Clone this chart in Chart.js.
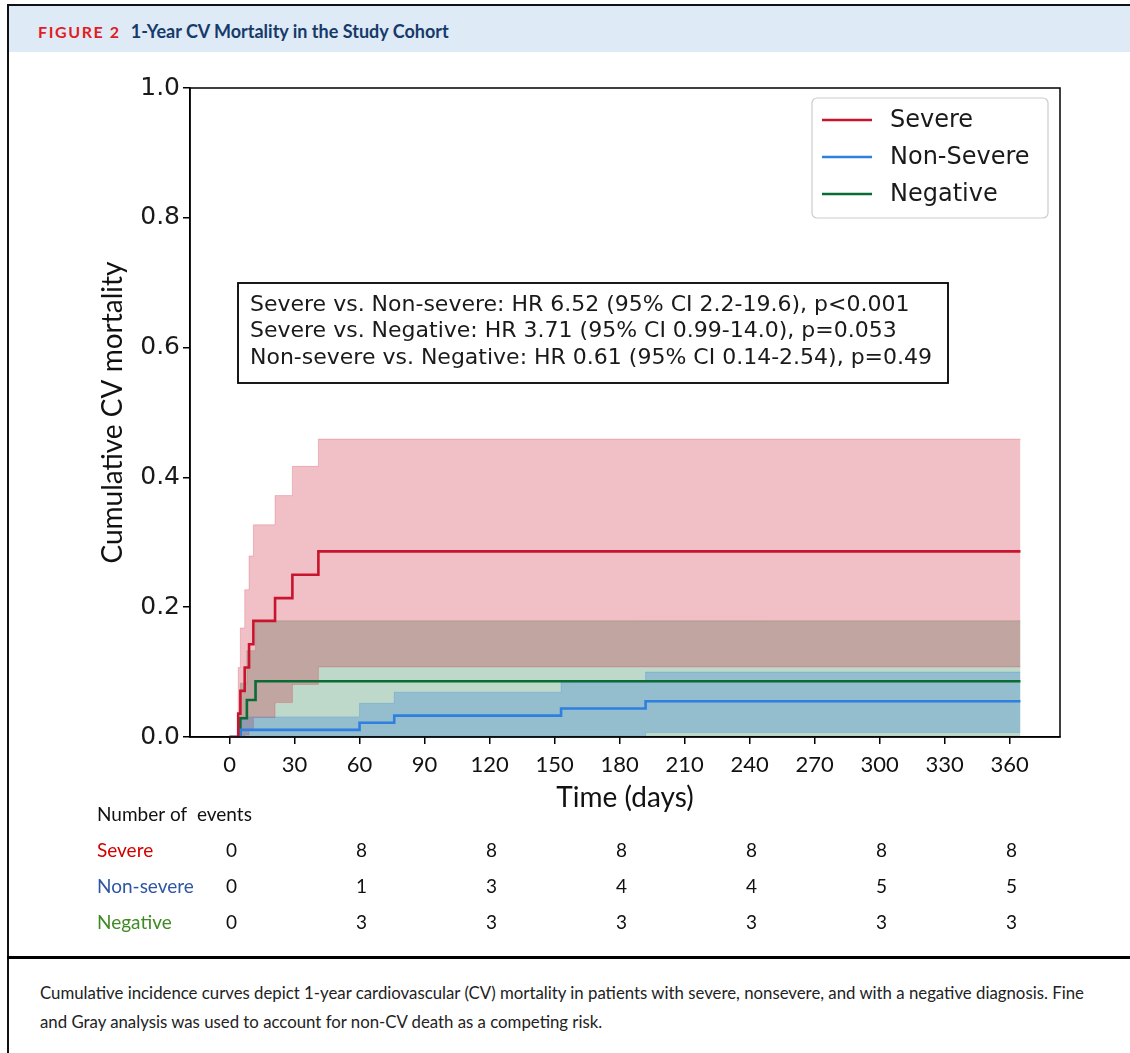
<!DOCTYPE html>
<html>
<head>
<meta charset="utf-8">
<script src="https://cdn.jsdelivr.net/npm/chart.js@4.4.0/dist/chart.umd.min.js"></script>
<style>
  html, body { margin: 0; padding: 0; background: #fff; }
  body { width: 1130px; height: 1053px; position: relative; overflow: hidden; }
  .rule { position: absolute; background: #111; }
  .head { position: absolute; left: 9px; top: 6px; width: 1121px; height: 46px; background: #deeaf6; }
  .head-text { position: absolute; left: 38px; top: 17px; line-height: 28px; font-family: Lato, "Open Sans", sans-serif; font-weight: 700; font-size: 18px; color: #163a6a; white-space: nowrap; }
  .head-text .fig { color: #e31b23; font-size: 16px; letter-spacing: 1.6px; margin-right: 10px; }
  .caption { position: absolute; left: 40px; top: 978px; font-family: Lato, "Open Sans", sans-serif; font-size: 16.8px; line-height: 29px; color: #222; white-space: nowrap; }
  #wrap { position: absolute; left: 0; top: 60px; width: 1130px; height: 890px; }
</style>
</head>
<body>
<div class="head"></div>
<div class="rule" style="left:7px; top:4px; width:1123px; height:2px;"></div>
<div class="rule" style="left:7px; top:4px; width:2px; height:1049px;"></div>
<div class="head-text"><span class="fig">FIGURE 2</span>1-Year CV Mortality in the Study Cohort</div>
<div id="wrap"><canvas id="km" width="1130" height="890"></canvas></div>
<div class="rule" style="left:7px; top:956px; width:1123px; height:3px; background:#000;"></div>
<div class="caption">Cumulative incidence curves depict 1-year cardiovascular (CV) mortality in patients with severe, nonsevere, and with a negative diagnosis. Fine<br>and Gray analysis was used to account for non-CV death as a competing risk.</div>

<script>
// axis ticks
const xTicks = [0, 30, 60, 90, 120, 150, 180, 210, 240, 270, 300, 330, 360];
const yTicks = [0, 0.2, 0.4, 0.6, 0.8, 1.0];

// cumulative incidence, steps at these days
const severeDays = [0, 4, 5, 7, 9, 11, 21, 29, 41, 365];
const severeCif  = [0, 0.036, 0.071, 0.107, 0.143, 0.179, 0.214, 0.250, 0.286, 0.286];
const severeLo   = [0, 0, 0, 0.003, 0.010, 0.030, 0.053, 0.081, 0.108, 0.108];
const severeHi   = [0, 0.107, 0.168, 0.227, 0.279, 0.327, 0.372, 0.417, 0.459, 0.459];

const nonSevereDays = [0, 5, 60, 76, 153, 192, 365];
const nonSevereCif  = [0, 0.011, 0.022, 0.033, 0.044, 0.055, 0.055];
const nonSevereLo   = [0, 0, 0, 0, 0.001, 0.007, 0.007];
const nonSevereHi   = [0, 0.031, 0.052, 0.069, 0.084, 0.100, 0.100];

const negativeDays = [0, 5, 8, 12, 365];
const negativeCif  = [0, 0.029, 0.057, 0.086, 0.086];
const negativeLo   = [0, 0, 0, 0.001, 0.001];
const negativeHi   = [0, 0.083, 0.133, 0.179, 0.179];

const seriesNames = ['Severe', 'Non-Severe', 'Negative'];

const hrLines = [
  'Severe vs. Non-severe: HR 6.52 (95% CI 2.2-19.6), p<0.001',
  'Severe vs. Negative: HR 3.71 (95% CI 0.99-14.0), p=0.053',
  'Non-severe vs. Negative: HR 0.61 (95% CI 0.14-2.54), p=0.49'
];

// number of events table
const eventDays = [0, 60, 120, 180, 240, 300, 360];
const tableRows = ['Severe', 'Non-severe', 'Negative'];
const severeEvents    = [0, 8, 8, 8, 8, 8, 8];
const nonSevereEvents = [0, 1, 3, 4, 4, 5, 5];
const negativeEvents  = [0, 3, 3, 3, 3, 3, 3];

const RED = '#c8142c', BLUE = '#2f7fe0', GREEN = '#0b6b35';
const RED_BAND = 'rgba(200,30,50,0.28)';
const BLUE_BAND = 'rgba(50,125,215,0.30)';
const GREEN_BAND = 'rgba(40,130,80,0.30)';
const TABLE_COLORS = ['#d40000', '#2f55a4', '#3f8a24'];

const toPts = (xs, ys) => xs.map((x, i) => ({ x: x, y: ys[i] }));

const lineDs = (label, xs, ys, color) => ({
  label: label, data: toPts(xs, ys), stepped: true, borderColor: color,
  borderWidth: 2.6, pointRadius: 0, fill: false
});
const bandDs = (xs, ys, color, fill) => ({
  label: '', data: toPts(xs, ys), stepped: true, borderColor: color,
  backgroundColor: color, borderWidth: 0.8, pointRadius: 0, fill: fill
});

// frame, legend, HR box and the events table
const extras = {
  id: 'extras',
  afterDraw(chart) {
    const ctx = chart.ctx;
    const ca = chart.chartArea;
    const xs = chart.scales.x;
    ctx.save();

    // full box around the plot
    ctx.strokeStyle = '#000';
    ctx.lineWidth = 1.5;
    ctx.strokeRect(ca.left, ca.top, ca.right - ca.left, ca.bottom - ca.top);

    // legend
    const lx = ca.right - 248, ly = ca.top + 10, lw = 236, lh = 120;
    ctx.fillStyle = 'rgba(255,255,255,0.85)';
    ctx.strokeStyle = '#cccccc';
    ctx.lineWidth = 1.2;
    ctx.beginPath();
    ctx.roundRect(lx, ly, lw, lh, 5);
    ctx.fill();
    ctx.stroke();
    ctx.font = '24px "DejaVu Sans"';
    ctx.textBaseline = 'middle';
    ctx.textAlign = 'left';
    for (let i = 0; i < 3; i++) {
      const ds = chart.data.datasets[i];
      const yy = ly + 22 + i * 37;
      ctx.strokeStyle = ds.borderColor;
      ctx.lineWidth = 2.6;
      ctx.beginPath();
      ctx.moveTo(lx + 10, yy);
      ctx.lineTo(lx + 60, yy);
      ctx.stroke();
      ctx.fillStyle = '#1a1a1a';
      ctx.fillText(seriesNames[i], lx + 78, yy + 1);
    }

    // hazard ratio box
    const bx = ca.left + 48, by = ca.top + 195, bw = 710, bh = 100;
    ctx.fillStyle = '#fff';
    ctx.fillRect(bx, by, bw, bh);
    ctx.strokeStyle = '#000';
    ctx.lineWidth = 1.8;
    ctx.strokeRect(bx, by, bw, bh);
    ctx.fillStyle = '#1a1a1a';
    ctx.font = '22px "DejaVu Sans"';
    hrLines.forEach((t, i) => ctx.fillText(t, bx + 12, by + 22 + i * 26.5));

    // number of events, below the axis title
    ctx.font = '19px Lato';
    ctx.fillStyle = '#111';
    ctx.fillText('Number of  events', 97, ca.bottom + 78);
    const rows = [severeEvents, nonSevereEvents, negativeEvents];
    rows.forEach((vals, r) => {
      const yy = ca.bottom + 114 + r * 36;
      ctx.textAlign = 'left';
      ctx.fillStyle = TABLE_COLORS[r];
      ctx.fillText(tableRows[r], 97, yy);
      ctx.textAlign = 'center';
      ctx.fillStyle = '#111';
      vals.forEach((v, c) => ctx.fillText(String(v), xs.getPixelForValue(eventDays[c]) + 2, yy));
    });
    ctx.restore();
  }
};

function draw() {
  new Chart(document.getElementById('km'), {
    type: 'line',
    data: {
      datasets: [
        lineDs('Severe', severeDays, severeCif, RED),
        lineDs('Non-Severe', nonSevereDays, nonSevereCif, BLUE),
        lineDs('Negative', negativeDays, negativeCif, GREEN),
        bandDs(nonSevereDays, nonSevereHi, BLUE_BAND, '+1'),
        bandDs(nonSevereDays, nonSevereLo, BLUE_BAND, false),
        bandDs(severeDays, severeHi, RED_BAND, '+1'),
        bandDs(severeDays, severeLo, RED_BAND, false),
        bandDs(negativeDays, negativeHi, GREEN_BAND, '+1'),
        bandDs(negativeDays, negativeLo, GREEN_BAND, false)
      ]
    },
    options: {
      responsive: false,
      animation: false,
      events: [],
      layout: { padding: { left: 95, top: 28, right: 70, bottom: 130 } },
      plugins: { legend: { display: false }, tooltip: { enabled: false } },
      scales: {
        x: {
          type: 'linear', min: -18.25, max: 383.25,
          afterBuildTicks: s => { s.ticks = xTicks.map(v => ({ value: v })); },
          afterFit: s => { s.height = 83; },
          grid: { display: true, drawOnChartArea: false, drawTicks: true, tickLength: 7, color: '#000', lineWidth: 1.5 },
          border: { display: true, color: '#000', width: 1.5 },
          ticks: { autoSkip: false, maxRotation: 0, padding: 8, color: '#111', font: { family: 'Lato', size: 22 } },
          title: { display: true, text: 'Time (days)', color: '#111', font: { family: 'Lato', size: 28 }, padding: { top: 0, bottom: 5 } }
        },
        y: {
          type: 'linear', min: 0, max: 1,
          afterBuildTicks: s => { s.ticks = yTicks.map(v => ({ value: v })); },
          afterFit: s => { s.width = 95; },
          grid: { display: true, drawOnChartArea: false, drawTicks: true, tickLength: 7, color: '#000', lineWidth: 1.5 },
          border: { display: true, color: '#000', width: 1.5 },
          ticks: { padding: 3, color: '#1a1a1a', font: { family: 'DejaVu Sans', size: 25 }, callback: v => Number(v).toFixed(1) },
          title: { display: true, text: 'Cumulative CV mortality', color: '#111', font: { family: 'Lato', size: 28 }, padding: { top: 1, bottom: 0 } }
        }
      }
    },
    plugins: [extras]
  });
}

Promise.all([
  document.fonts.load('22px "DejaVu Sans"'),
  document.fonts.load('22px Lato')
]).then(draw, draw);
</script>
</body>
</html>
